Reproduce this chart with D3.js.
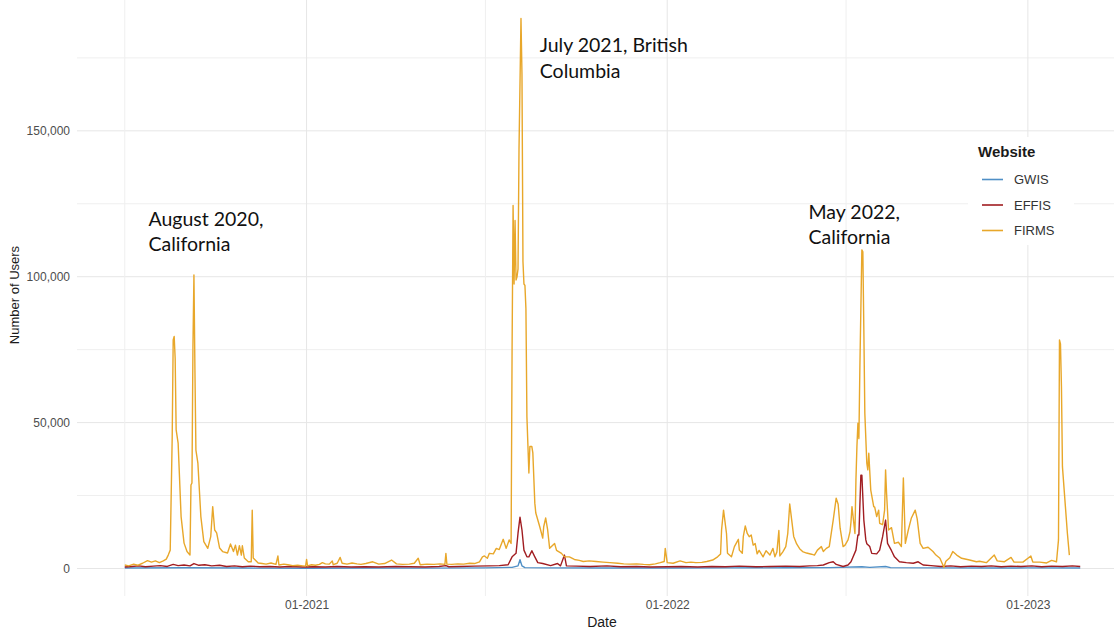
<!DOCTYPE html>
<html>
<head>
<meta charset="utf-8">
<script src="https://cdn.jsdelivr.net/npm/d3@7"></script>
<style>
  html, body { margin: 0; padding: 0; background: #ffffff; }
  svg { display: block; }
</style>
</head>
<body>
<div id="chart"></div>
<script>
// Daily users of three wildfire-monitoring websites, July 2020 – February 2023.

const seriesNames = ["GWIS", "EFFIS", "FIRMS"];
const seriesColors = ["#4f8fc6", "#a11d21", "#e8a72a"];

const gwisUsers = [
  ["2020-07-01", 150], ["2020-09-01", 250], ["2020-11-01", 150], ["2021-01-01", 100],
  ["2021-03-01", 150], ["2021-05-01", 120], ["2021-07-01", 200], ["2021-07-28", 400],
  ["2021-08-03", 900], ["2021-08-05", 3000], ["2021-08-07", 900], ["2021-08-10", 300],
  ["2021-09-01", 200], ["2021-11-01", 150], ["2022-01-01", 150], ["2022-03-01", 200],
  ["2022-05-01", 250], ["2022-06-15", 300], ["2022-07-17", 600], ["2022-07-25", 400],
  ["2022-08-10", 700], ["2022-08-15", 300], ["2022-10-01", 200], ["2022-12-01", 150],
  ["2023-01-01", 200], ["2023-02-23", 150]
];

const effisUsers = [
  ["2020-07-01", 500], ["2020-07-08", 700], ["2020-07-15", 900], ["2020-07-22", 600],
  ["2020-07-30", 800], ["2020-08-06", 1000], ["2020-08-13", 700], ["2020-08-19", 1400],
  ["2020-08-24", 1000], ["2020-08-30", 1200], ["2020-09-05", 900], ["2020-09-09", 1700],
  ["2020-09-14", 1100], ["2020-09-20", 1300], ["2020-09-27", 900], ["2020-10-05", 1100],
  ["2020-10-12", 700], ["2020-10-20", 900], ["2020-10-28", 600], ["2020-11-05", 800],
  ["2020-11-15", 600], ["2020-11-25", 700], ["2020-12-05", 500], ["2020-12-15", 700],
  ["2020-12-28", 500], ["2021-01-08", 600], ["2021-01-20", 500], ["2021-02-01", 700],
  ["2021-02-15", 500], ["2021-03-01", 600], ["2021-03-15", 500], ["2021-04-01", 700],
  ["2021-04-15", 600], ["2021-05-01", 500], ["2021-05-15", 700], ["2021-05-22", 1000],
  ["2021-05-25", 600], ["2021-06-05", 700], ["2021-06-20", 800], ["2021-07-05", 900],
  ["2021-07-15", 1000], ["2021-07-24", 1300], ["2021-07-28", 4000], ["2021-08-01", 5200],
  ["2021-08-03", 12100], ["2021-08-05", 17600], ["2021-08-07", 13200], ["2021-08-09", 6300],
  ["2021-08-12", 4000], ["2021-08-14", 4000], ["2021-08-17", 6100], ["2021-08-20", 4000],
  ["2021-08-23", 2000], ["2021-08-28", 1700], ["2021-09-05", 1000], ["2021-09-12", 1700],
  ["2021-09-15", 900], ["2021-09-19", 4600], ["2021-09-21", 900], ["2021-10-01", 800],
  ["2021-10-15", 700], ["2021-11-01", 900], ["2021-11-15", 600], ["2021-12-01", 700],
  ["2021-12-15", 500], ["2022-01-01", 600], ["2022-01-15", 700], ["2022-02-01", 500],
  ["2022-02-15", 700], ["2022-03-01", 600], ["2022-03-15", 800], ["2022-04-01", 600],
  ["2022-04-15", 700], ["2022-05-01", 800], ["2022-05-15", 700], ["2022-05-25", 900],
  ["2022-06-02", 1000], ["2022-06-08", 1200], ["2022-06-14", 2000], ["2022-06-18", 2300],
  ["2022-06-21", 1400], ["2022-06-28", 700], ["2022-07-03", 1200], ["2022-07-06", 2300],
  ["2022-07-11", 6300], ["2022-07-13", 11500], ["2022-07-14", 11500], ["2022-07-16", 32000],
  ["2022-07-17", 32000], ["2022-07-19", 16600], ["2022-07-21", 9800], ["2022-07-22", 8500],
  ["2022-07-25", 7500], ["2022-07-27", 5200], ["2022-08-01", 5000], ["2022-08-04", 6300],
  ["2022-08-07", 10900], ["2022-08-10", 16600], ["2022-08-12", 8600], ["2022-08-16", 6100],
  ["2022-08-19", 4000], ["2022-08-24", 2300], ["2022-08-31", 2000], ["2022-09-07", 1800],
  ["2022-09-12", 2300], ["2022-09-17", 1200], ["2022-09-25", 1000], ["2022-10-05", 700],
  ["2022-10-15", 900], ["2022-10-25", 600], ["2022-11-05", 800], ["2022-11-15", 700],
  ["2022-11-25", 900], ["2022-12-05", 600], ["2022-12-15", 800], ["2022-12-25", 700],
  ["2023-01-05", 900], ["2023-01-15", 600], ["2023-01-25", 800], ["2023-02-05", 700],
  ["2023-02-15", 900], ["2023-02-23", 700]
];

const firmsUsers = [
  ["2020-07-01", 1200], ["2020-07-05", 900], ["2020-07-10", 1500], ["2020-07-14", 1100],
  ["2020-07-19", 1800], ["2020-07-24", 2700], ["2020-07-28", 2200], ["2020-08-01", 2600],
  ["2020-08-05", 2000], ["2020-08-09", 2600], ["2020-08-12", 3200], ["2020-08-14", 4600],
  ["2020-08-16", 6300], ["2020-08-18", 45000], ["2020-08-19", 78300], ["2020-08-20", 79500],
  ["2020-08-21", 72000], ["2020-08-22", 47500], ["2020-08-24", 43000], ["2020-08-27", 17800],
  ["2020-08-30", 8700], ["2020-09-02", 5800], ["2020-09-05", 4600], ["2020-09-06", 28600],
  ["2020-09-07", 29300], ["2020-09-08", 76000], ["2020-09-09", 100600], ["2020-09-10", 68000],
  ["2020-09-11", 40600], ["2020-09-13", 36100], ["2020-09-16", 17800], ["2020-09-19", 9200],
  ["2020-09-23", 6900], ["2020-09-26", 10900], ["2020-09-28", 21200], ["2020-09-30", 13200],
  ["2020-10-02", 12200], ["2020-10-05", 7000], ["2020-10-08", 5800], ["2020-10-13", 5300],
  ["2020-10-16", 8400], ["2020-10-19", 5800], ["2020-10-21", 8000], ["2020-10-23", 4600],
  ["2020-10-25", 7800], ["2020-10-27", 4600], ["2020-10-28", 7800], ["2020-10-30", 3600],
  ["2020-11-03", 2300], ["2020-11-06", 2300], ["2020-11-07", 20000], ["2020-11-08", 3600],
  ["2020-11-13", 1900], ["2020-11-17", 1700], ["2020-11-21", 1500], ["2020-11-26", 1900],
  ["2020-12-01", 1400], ["2020-12-03", 4300], ["2020-12-04", 1200], ["2020-12-09", 1500],
  ["2020-12-13", 1300], ["2020-12-18", 1000], ["2020-12-23", 1100], ["2020-12-28", 900],
  ["2020-12-31", 800], ["2021-01-01", 3100], ["2021-01-02", 900], ["2021-01-06", 1300],
  ["2021-01-10", 1100], ["2021-01-14", 1400], ["2021-01-17", 2000], ["2021-01-20", 1600],
  ["2021-01-24", 1500], ["2021-01-27", 2600], ["2021-01-28", 1300], ["2021-02-01", 1800],
  ["2021-02-04", 3800], ["2021-02-06", 1800], ["2021-02-11", 1500], ["2021-02-16", 1900],
  ["2021-02-21", 1600], ["2021-02-25", 1400], ["2021-03-02", 1700], ["2021-03-09", 2300],
  ["2021-03-15", 1500], ["2021-03-21", 1700], ["2021-03-28", 2900], ["2021-04-02", 1600],
  ["2021-04-08", 1400], ["2021-04-15", 1500], ["2021-04-20", 1800], ["2021-04-24", 3500],
  ["2021-04-26", 1300], ["2021-05-03", 1500], ["2021-05-10", 1400], ["2021-05-16", 1600],
  ["2021-05-21", 1400], ["2021-05-22", 5200], ["2021-05-23", 1500], ["2021-05-28", 1400],
  ["2021-06-03", 1600], ["2021-06-09", 1500], ["2021-06-15", 1800], ["2021-06-20", 1700],
  ["2021-06-25", 2300], ["2021-06-28", 4000], ["2021-06-30", 4300], ["2021-07-03", 3500],
  ["2021-07-05", 5200], ["2021-07-09", 5000], ["2021-07-12", 6900], ["2021-07-15", 6500],
  ["2021-07-19", 10000], ["2021-07-22", 6900], ["2021-07-25", 9800], ["2021-07-27", 8600],
  ["2021-07-28", 75700], ["2021-07-29", 124400], ["2021-07-30", 97500], ["2021-07-31", 119300],
  ["2021-08-01", 98900], ["2021-08-02", 100000], ["2021-08-03", 102700], ["2021-08-04", 143700],
  ["2021-08-06", 188500], ["2021-08-07", 169300], ["2021-08-08", 105200], ["2021-08-09", 97500],
  ["2021-08-10", 97000], ["2021-08-11", 89000], ["2021-08-12", 52000], ["2021-08-14", 32700],
  ["2021-08-15", 41800], ["2021-08-17", 41800], ["2021-08-18", 39600], ["2021-08-20", 22400],
  ["2021-08-21", 19000], ["2021-08-25", 14300], ["2021-08-28", 10400], ["2021-08-29", 14300],
  ["2021-08-31", 17300], ["2021-09-02", 13200], ["2021-09-04", 6900], ["2021-09-09", 8600],
  ["2021-09-11", 6200], ["2021-09-16", 5200], ["2021-09-19", 4000], ["2021-09-24", 4000],
  ["2021-09-29", 3100], ["2021-10-04", 2800], ["2021-10-08", 2400], ["2021-10-14", 2600],
  ["2021-10-21", 2400], ["2021-10-28", 2200], ["2021-11-04", 2000], ["2021-11-12", 1800],
  ["2021-11-18", 1600], ["2021-11-24", 1500], ["2021-12-01", 1600], ["2021-12-08", 1400],
  ["2021-12-14", 1300], ["2021-12-20", 1600], ["2021-12-25", 2000], ["2021-12-29", 2400],
  ["2021-12-30", 6900], ["2022-01-01", 2000], ["2022-01-07", 1800], ["2022-01-14", 2600],
  ["2022-01-20", 2000], ["2022-01-25", 2200], ["2022-01-30", 2000], ["2022-02-05", 2100],
  ["2022-02-10", 2400], ["2022-02-16", 2900], ["2022-02-21", 4000], ["2022-02-24", 5000],
  ["2022-02-25", 13200], ["2022-02-27", 20000], ["2022-03-02", 12000], ["2022-03-03", 5200],
  ["2022-03-07", 4000], ["2022-03-10", 7500], ["2022-03-14", 10000], ["2022-03-15", 6300],
  ["2022-03-18", 5200], ["2022-03-19", 10900], ["2022-03-21", 14600], ["2022-03-23", 12000],
  ["2022-03-25", 10900], ["2022-03-27", 11500], ["2022-03-29", 8000], ["2022-03-31", 8600],
  ["2022-04-02", 5000], ["2022-04-04", 6200], ["2022-04-08", 4000], ["2022-04-11", 6100],
  ["2022-04-15", 4600], ["2022-04-18", 6900], ["2022-04-20", 4000], ["2022-04-22", 5700],
  ["2022-04-24", 13000], ["2022-04-25", 4300], ["2022-04-28", 5700], ["2022-05-01", 7500],
  ["2022-05-03", 12000], ["2022-05-05", 22100], ["2022-05-07", 16600], ["2022-05-09", 11000],
  ["2022-05-12", 8400], ["2022-05-15", 6800], ["2022-05-18", 5800], ["2022-05-22", 5300],
  ["2022-05-27", 4900], ["2022-05-30", 4600], ["2022-06-02", 6300], ["2022-06-06", 7500],
  ["2022-06-08", 5800], ["2022-06-11", 6900], ["2022-06-14", 7500], ["2022-06-18", 16600],
  ["2022-06-21", 24100], ["2022-06-23", 22000], ["2022-06-25", 13800], ["2022-06-28", 7500],
  ["2022-06-30", 8000], ["2022-07-03", 9800], ["2022-07-05", 12600], ["2022-07-06", 16000],
  ["2022-07-07", 21200], ["2022-07-10", 12000], ["2022-07-11", 30300], ["2022-07-12", 41800],
  ["2022-07-13", 49800], ["2022-07-14", 44500], ["2022-07-15", 69200], ["2022-07-17", 109200],
  ["2022-07-18", 108500], ["2022-07-19", 81800], ["2022-07-20", 53200], ["2022-07-22", 36100],
  ["2022-07-23", 33800], ["2022-07-24", 39500], ["2022-07-26", 26900], ["2022-07-29", 21200],
  ["2022-07-30", 21000], ["2022-08-01", 17800], ["2022-08-03", 20000], ["2022-08-04", 15500],
  ["2022-08-07", 15000], ["2022-08-09", 20000], ["2022-08-10", 33800], ["2022-08-11", 25800],
  ["2022-08-13", 13200], ["2022-08-16", 14000], ["2022-08-19", 8600], ["2022-08-23", 9000],
  ["2022-08-26", 7500], ["2022-08-28", 31000], ["2022-08-30", 8600], ["2022-09-02", 13200],
  ["2022-09-05", 17200], ["2022-09-09", 20000], ["2022-09-11", 17000], ["2022-09-14", 8600],
  ["2022-09-17", 6900], ["2022-09-22", 7300], ["2022-09-27", 5800], ["2022-09-30", 4600],
  ["2022-10-04", 3500], ["2022-10-08", 400], ["2022-10-10", 2500], ["2022-10-14", 3700],
  ["2022-10-17", 5800], ["2022-10-21", 4600], ["2022-10-26", 3500], ["2022-11-03", 2900],
  ["2022-11-10", 2300], ["2022-11-13", 2500], ["2022-11-20", 2000], ["2022-11-28", 4600],
  ["2022-12-01", 2600], ["2022-12-08", 2300], ["2022-12-15", 3800], ["2022-12-18", 2200],
  ["2022-12-27", 2200], ["2023-01-04", 4300], ["2023-01-06", 2200], ["2023-01-13", 2200],
  ["2023-01-20", 1900], ["2023-01-25", 2800], ["2023-01-30", 2300], ["2023-02-01", 9800],
  ["2023-02-02", 78300], ["2023-02-03", 77000], ["2023-02-04", 62300], ["2023-02-05", 34900],
  ["2023-02-08", 21200], ["2023-02-10", 12100], ["2023-02-12", 4600]
];

const yTickValues = [0, 50000, 100000, 150000];
const yMinorValues = [25000, 75000, 125000, 175000];
const xTickDates = ["2021-01-01", "2022-01-01", "2023-01-01"];
const xMinorDates = ["2020-07-01", "2021-07-01", "2022-07-01"];

const annotations = [
  { date: "2020-07-25", value: 117500, lines: ["August 2020,", "California"] },
  { date: "2021-08-25", value: 177000, lines: ["July 2021, British", "Columbia"] },
  { date: "2022-05-24", value: 119800, lines: ["May 2022,", "California"] }
];

// ---------------------------------------------------------------------------

const W = 1114, H = 630;
const panel = { left: 77, right: 1128, top: -9, bottom: 596 };
const parse = d3.timeParse("%Y-%m-%d");

const allSeries = [gwisUsers, effisUsers, firmsUsers].map((rows, i) => ({
  name: seriesNames[i],
  color: seriesColors[i],
  values: rows.map(([d, v]) => ({ date: parse(d), value: v }))
}));

const allPoints = allSeries.flatMap(s => s.values);
const [d0, d1] = d3.extent(allPoints, p => p.date);
const span = d1 - d0;
const x = d3.scaleTime()
  .domain([new Date(+d0 - 0.05 * span), new Date(+d1 + 0.05 * span)])
  .range([panel.left, panel.right]);

const vMax = d3.max(allPoints, p => p.value);
const y = d3.scaleLinear()
  .domain([-0.05 * vMax, 1.05 * vMax])
  .range([panel.bottom, panel.top]);

const svg = d3.select("#chart").append("svg")
  .attr("width", W).attr("height", H)
  .style("font-family", "'Liberation Sans', Arial, sans-serif");

// grid
const grid = svg.append("g");
grid.selectAll(".hmin").data(yMinorValues).join("line")
  .attr("x1", panel.left).attr("x2", W)
  .attr("y1", d => y(d)).attr("y2", d => y(d))
  .attr("stroke", "#efefef").attr("stroke-width", 1);
grid.selectAll(".hmaj").data(yTickValues).join("line")
  .attr("x1", panel.left).attr("x2", W)
  .attr("y1", d => y(d)).attr("y2", d => y(d))
  .attr("stroke", "#e6e6e6").attr("stroke-width", 1);
grid.selectAll(".vmin").data(xMinorDates).join("line")
  .attr("x1", d => x(parse(d))).attr("x2", d => x(parse(d)))
  .attr("y1", 0).attr("y2", panel.bottom)
  .attr("stroke", "#efefef").attr("stroke-width", 1);
grid.selectAll(".vmaj").data(xTickDates).join("line")
  .attr("x1", d => x(parse(d))).attr("x2", d => x(parse(d)))
  .attr("y1", 0).attr("y2", panel.bottom)
  .attr("stroke", "#e6e6e6").attr("stroke-width", 1);

// axes (text only, ggplot minimal style)
const yAxis = d3.axisLeft(y).tickValues(yTickValues)
  .tickFormat(d3.format(",")).tickSize(0).tickPadding(7);
svg.append("g").attr("transform", `translate(${panel.left},0)`).call(yAxis)
  .call(g => g.select(".domain").remove())
  .call(g => g.selectAll("text").attr("fill", "#4d4d4d")
    .style("font-size", "12px").style("font-family", "'Liberation Sans', Arial, sans-serif"));

const xAxis = d3.axisBottom(x).tickValues(xTickDates.map(parse))
  .tickFormat(d3.timeFormat("%m-%Y")).tickSize(0).tickPadding(4);
svg.append("g").attr("transform", `translate(0,${panel.bottom})`).call(xAxis)
  .call(g => g.select(".domain").remove())
  .call(g => g.selectAll("text").attr("fill", "#4d4d4d")
    .style("font-size", "12px").style("font-family", "'Liberation Sans', Arial, sans-serif"));

svg.append("text")
  .attr("x", 602).attr("y", 627)
  .attr("text-anchor", "middle")
  .attr("fill", "#1a1a1a")
  .style("font-size", "14px")
  .text("Date");

svg.append("text")
  .attr("transform", "translate(19,295) rotate(-90)")
  .attr("text-anchor", "middle")
  .attr("fill", "#1a1a1a")
  .style("font-size", "13px")
  .text("Number of Users");

// lines
const line = d3.line().x(p => x(p.date)).y(p => y(p.value));
svg.append("g").selectAll("path").data(allSeries).join("path")
  .attr("d", s => line(s.values))
  .attr("fill", "none")
  .attr("stroke", s => s.color)
  .attr("stroke-width", 1.4)
  .attr("stroke-linejoin", "round");

// legend
const legend = svg.append("g").attr("transform", "translate(968,137)");
legend.append("rect").attr("width", 106).attr("height", 108).attr("fill", "#ffffff");
legend.append("text")
  .attr("x", 10).attr("y", 20)
  .attr("fill", "#1a1a1a")
  .style("font-size", "15px").style("font-weight", "bold")
  .text("Website");
const item = legend.selectAll(".item").data(allSeries).join("g")
  .attr("transform", (s, i) => `translate(0,${42.5 + i * 25.5})`);
item.append("line")
  .attr("x1", 14).attr("x2", 35)
  .attr("stroke", s => s.color).attr("stroke-width", 1.6);
item.append("text")
  .attr("x", 46).attr("y", 4.5)
  .attr("fill", "#333333")
  .style("font-size", "13px")
  .text(s => s.name);

// annotations
const note = svg.append("g")
  .style("font-family", "Lato, 'Open Sans', sans-serif")
  .style("font-size", "19.5px")
  .attr("fill", "#111111");
note.selectAll("text").data(annotations).join("text")
  .attr("x", a => x(parse(a.date)))
  .attr("y", a => y(a.value))
  .each(function (a) {
    d3.select(this).selectAll("tspan").data(a.lines).join("tspan")
      .attr("x", x(parse(a.date)))
      .attr("dy", (t, i) => i === 0 ? 0 : 25.5)
      .text(t => t);
  });
</script>
</body>
</html>
